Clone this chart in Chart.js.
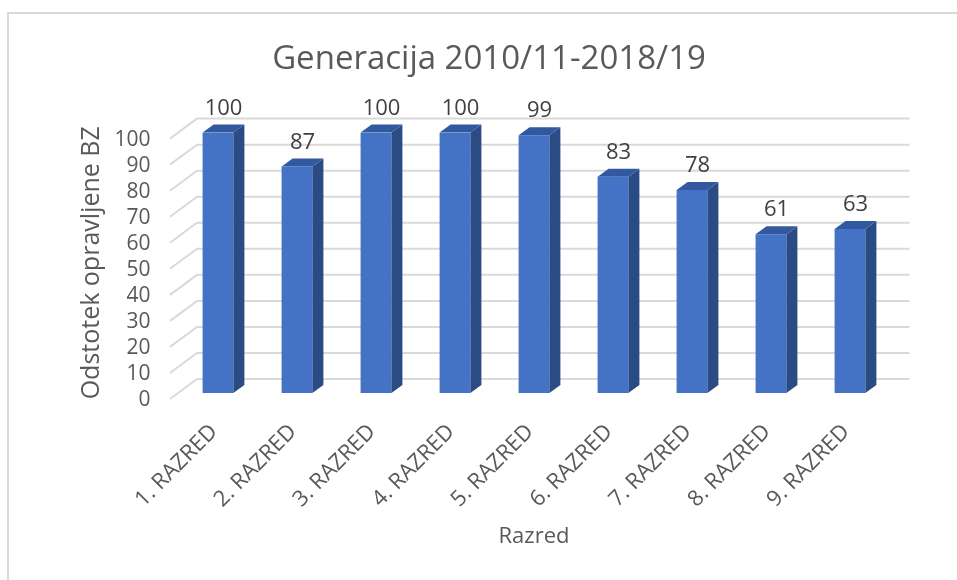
<!DOCTYPE html>
<html>
<head>
<meta charset="utf-8">
<script src="https://cdn.jsdelivr.net/npm/chart.js@4.4.1/dist/chart.umd.min.js"></script>
<style>
  body { margin: 0; background: #fff; }
  #chart { display: block; }
</style>
</head>
<body>
<canvas id="chart" width="957" height="580"></canvas>
<script>
var razredi = ["1. RAZRED", "2. RAZRED", "3. RAZRED", "4. RAZRED", "5. RAZRED",
               "6. RAZRED", "7. RAZRED", "8. RAZRED", "9. RAZRED"];
var odstotki = [100, 87, 100, 100, 99, 83, 78, 61, 63];
var yTicks = [0, 10, 20, 30, 40, 50, 60, 70, 80, 90, 100];

var naslov = "Generacija 2010/11-2018/19";
var yNaslov = "Odstotek opravljene BZ";
var xNaslov = "Razred";

Chart.defaults.font.family = "'Open Sans', sans-serif";
Chart.defaults.color = "#595959";

// depth of the fake 3D bars and of the back wall
var barDx = 11, barDy = 8;

var okvir = {
    id: "okvir",
    beforeDraw: function(chart) {
        var c = chart.ctx;
        c.save();
        c.strokeStyle = "#d9d9d9";
        c.lineWidth = 2;
        c.beginPath();
        c.moveTo(8, 580);
        c.lineTo(8, 13);
        c.lineTo(957, 13);
        c.stroke();
        c.restore();
    }
};

var mreza = {
    id: "mreza",
    beforeDatasetsDraw: function(chart) {
        var c = chart.ctx;
        var a = chart.chartArea;
        var ys = chart.scales.y;
        c.save();
        c.strokeStyle = "#d9d9d9";
        c.lineWidth = 2;
        yTicks.forEach(function(v) {
            var y = ys.getPixelForValue(v);
            c.beginPath();
            c.moveTo(a.left - 8.5, y + 6);
            c.lineTo(a.left + 18.5, y - 14);
            c.lineTo(a.right + 20, y - 14);
            c.stroke();
        });
        c.restore();
    }
};

var stolpci3d = {
    id: "stolpci3d",
    afterDatasetsDraw: function(chart) {
        var c = chart.ctx;
        var meta = chart.getDatasetMeta(0);
        c.save();
        meta.data.forEach(function(bar, i) {
            var w = bar.width;
            var l = bar.x - w / 2, r = bar.x + w / 2;
            var t = bar.y, b = bar.base;
            // side
            c.fillStyle = "#2b4b85";
            c.beginPath();
            c.moveTo(r, t);
            c.lineTo(r + barDx, t - barDy);
            c.lineTo(r + barDx, b - barDy);
            c.lineTo(r, b);
            c.closePath();
            c.fill();
            // top
            c.fillStyle = "#3259a0";
            c.beginPath();
            c.moveTo(l, t);
            c.lineTo(l + barDx, t - barDy);
            c.lineTo(r + barDx, t - barDy);
            c.lineTo(r, t);
            c.closePath();
            c.fill();
            // value label
            c.fillStyle = "#404040";
            c.font = "22px 'Open Sans', sans-serif";
            c.textAlign = "center";
            c.textBaseline = "middle";
            c.fillText(String(odstotki[i]), bar.x + barDx / 2, t - 24);
        });
        c.restore();
    }
};

new Chart(document.getElementById("chart"), {
    type: "bar",
    data: {
        labels: razredi,
        datasets: [{
            data: odstotki,
            backgroundColor: "#4472c4",
            borderWidth: 0,
            barPercentage: 0.39,
            categoryPercentage: 1
        }]
    },
    options: {
        responsive: false,
        animation: false,
        layout: { padding: { left: 88.5, right: 67.5, top: 0, bottom: 0 } },
        plugins: {
            legend: { display: false },
            tooltip: { enabled: false },
            title: {
                display: true,
                text: naslov,
                color: "#595959",
                font: { size: 33, weight: "normal" },
                padding: { top: 40, bottom: 53 }
            }
        },
        scales: {
            x: {
                grid: { display: false, drawTicks: false },
                border: { display: false },
                ticks: {
                    font: { size: 22 },
                    color: "#595959",
                    maxRotation: 45,
                    minRotation: 45,
                    autoSkip: false,
                    padding: 26,
                    labelOffset: -4
                },
                title: {
                    display: true,
                    text: xNaslov,
                    color: "#595959",
                    font: { size: 22 },
                    padding: { top: 0, bottom: 30 }
                },
                afterFit: function(s) { s.height = 187; }
            },
            y: {
                min: 0,
                max: 100,
                grid: { display: false, drawTicks: false },
                border: { display: false },
                ticks: {
                    stepSize: 10,
                    autoSkip: false,
                    font: { size: 21 },
                    color: "#595959",
                    padding: 28,
                    labelOffset: 7
                },
                title: {
                    display: true,
                    text: yNaslov,
                    color: "#595959",
                    font: { size: 25 },
                    padding: { top: -11.5, bottom: 0 }
                },
                afterFit: function(s) { s.width = 90; }
            }
        }
    },
    plugins: [okvir, mreza, stolpci3d]
});
</script>
</body>
</html>
